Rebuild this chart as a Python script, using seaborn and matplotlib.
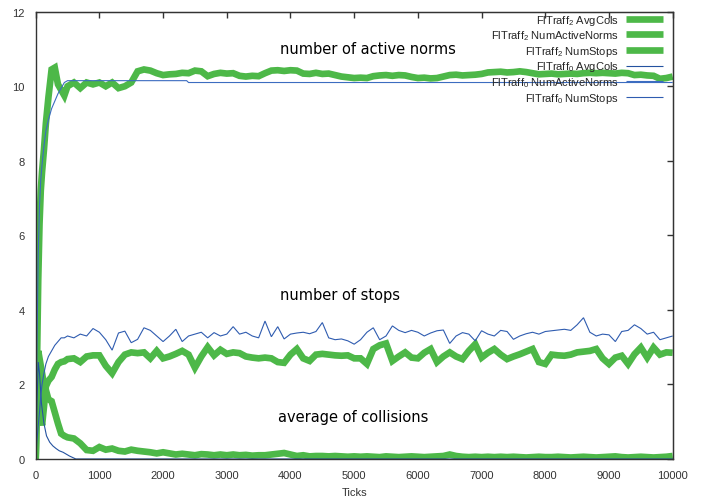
"""Norm emergence in two traffic flows: active norms, stops and collisions over ticks."""

import matplotlib

matplotlib.use("Agg")
import matplotlib.pyplot as plt
import seaborn as sns

# sampling positions (simulation ticks)
ticks_early = [0, 20, 40, 60, 80, 100, 130, 160, 200, 250,
               300, 350, 400, 450, 500, 600, 700, 800, 900, 1000]
ticks = ticks_early + list(range(1100, 10001, 100))

# FlTraff 2 (thick green)
norms_2 = [0, 2.5, 4.8, 6.3, 7.2, 7.7, 8.3, 9.0, 9.7, 10.45,
           10.5, 10.05, 9.9, 9.75, 10.0, 10.1, 9.95, 10.1, 10.05, 10.1,
           10.0, 10.1, 9.95, 10.0, 10.1, 10.4, 10.45, 10.42, 10.35, 10.3,
           10.32, 10.33, 10.36, 10.35, 10.42, 10.4, 10.27, 10.33, 10.36, 10.34,
           10.35, 10.28, 10.26, 10.28, 10.27, 10.35, 10.42, 10.43, 10.41, 10.43,
           10.42, 10.34, 10.33, 10.36, 10.33, 10.34, 10.3, 10.26, 10.24, 10.22,
           10.23, 10.22, 10.27, 10.29, 10.3, 10.28, 10.3, 10.29, 10.25, 10.22,
           10.23, 10.21, 10.22, 10.26, 10.3, 10.31, 10.29, 10.3, 10.31, 10.33,
           10.37, 10.38, 10.39, 10.37, 10.38, 10.4, 10.38, 10.35, 10.32, 10.33,
           10.34, 10.32, 10.33, 10.34, 10.33, 10.35, 10.36, 10.35, 10.36, 10.35,
           10.34, 10.36, 10.35, 10.3, 10.31, 10.29, 10.28, 10.2, 10.22, 10.26]

stops_2 = [0, 1.5, 2.7, 2.0, 1.1, 0.9, 1.4, 1.95, 2.1, 2.2,
           2.4, 2.55, 2.6, 2.62, 2.68, 2.7, 2.6, 2.75, 2.78, 2.78,
           2.5, 2.3, 2.6, 2.8, 2.86, 2.84, 2.86, 2.7, 2.9, 2.7,
           2.75, 2.82, 2.9, 2.8, 2.45, 2.75, 3.0, 2.78, 2.93, 2.82,
           2.86, 2.84, 2.75, 2.72, 2.7, 2.72, 2.7, 2.6, 2.58, 2.8,
           2.95, 2.7, 2.63, 2.8, 2.82, 2.8, 2.78, 2.77, 2.78, 2.7,
           2.7, 2.55, 2.95, 3.05, 3.1, 2.63, 2.75, 2.86, 2.72, 2.7,
           2.85, 2.95, 2.6, 2.75, 2.86, 2.75, 2.68, 2.9, 3.08, 2.72,
           2.85, 2.95, 2.8, 2.68, 2.75, 2.81, 2.88, 2.95, 2.6, 2.55,
           2.8, 2.78, 2.77, 2.8, 2.86, 2.88, 2.9, 2.95, 2.7, 2.55,
           2.72, 2.77, 2.55, 2.81, 2.99, 2.72, 2.99, 2.8, 2.86, 2.85]

cols_2 = [0, 2.0, 2.9, 2.7, 2.5, 2.3, 2.0, 1.85, 1.6, 1.55,
          1.25, 0.95, 0.68, 0.62, 0.58, 0.55, 0.42, 0.24, 0.22, 0.32,
          0.25, 0.28, 0.22, 0.2, 0.25, 0.22, 0.2, 0.18, 0.15, 0.18,
          0.15, 0.12, 0.14, 0.12, 0.1, 0.13, 0.12, 0.1, 0.12, 0.1,
          0.12, 0.1, 0.11, 0.09, 0.1, 0.1, 0.12, 0.14, 0.16, 0.12,
          0.08, 0.1, 0.07, 0.08, 0.08, 0.07, 0.08, 0.07, 0.06, 0.07,
          0.06, 0.07, 0.06, 0.05, 0.07, 0.06, 0.05, 0.06, 0.07, 0.06,
          0.05, 0.06, 0.07, 0.08, 0.12, 0.08, 0.06, 0.05, 0.06, 0.05,
          0.06, 0.05, 0.06, 0.05, 0.06, 0.05, 0.04, 0.05, 0.06, 0.05,
          0.05, 0.06, 0.05, 0.04, 0.05, 0.06, 0.05, 0.04, 0.05, 0.06,
          0.07, 0.05, 0.04, 0.05, 0.06, 0.05, 0.04, 0.05, 0.06, 0.08]

# FlTraff 0 (thin blue)
stops_0 = [0, 0.5, 0.9, 1.25, 1.7, 2.0, 2.3, 2.55, 2.75, 2.9,
           3.05, 3.15, 3.25, 3.25, 3.3, 3.25, 3.35, 3.3, 3.5, 3.4,
           3.2, 2.92, 3.38, 3.43, 3.12, 3.21, 3.52, 3.45, 3.3, 3.15,
           3.3, 3.48, 3.15, 3.3, 3.35, 3.4, 3.25, 3.39, 3.3, 3.35,
           3.55, 3.35, 3.4, 3.3, 3.25, 3.7, 3.28, 3.55, 3.22, 3.35,
           3.38, 3.4, 3.36, 3.42, 3.66, 3.25, 3.2, 3.22, 3.17, 3.08,
           3.2, 3.4, 3.52, 3.2, 3.3, 3.57, 3.45, 3.39, 3.45, 3.4,
           3.3, 3.38, 3.44, 3.46, 3.1, 3.3, 3.39, 3.35, 3.17, 3.44,
           3.35, 3.3, 3.45, 3.42, 3.21, 3.3, 3.36, 3.4, 3.35, 3.42,
           3.44, 3.46, 3.48, 3.45, 3.6, 3.79, 3.4, 3.3, 3.35, 3.33,
           3.15, 3.42, 3.45, 3.6, 3.5, 3.35, 3.4, 3.2, 3.25, 3.3]

norms_0_ticks = [0, 20, 40, 60, 80, 100, 130, 160, 200, 250,
                 300, 350, 400, 450, 500, 2370, 2400, 10000]
norms_0 = [0, 3.0, 5.5, 6.8, 7.5, 7.9, 8.4, 8.8, 9.1, 9.4,
           9.6, 9.8, 9.95, 10.1, 10.15, 10.15, 10.1, 10.1]

cols_0_ticks = [0, 20, 40, 60, 90, 130, 170, 220, 270, 320,
                370, 430, 480, 530, 580, 630, 10000]
cols_0 = [0, 1.5, 2.6, 2.3, 1.5, 0.95, 0.62, 0.45, 0.35, 0.28,
          0.22, 0.18, 0.13, 0.08, 0.04, 0.0, 0.0]

GREEN = "#4db848"

sns.set_style("white")
plt.rcParams["font.family"] = ["Liberation Sans", "DejaVu Sans"]
plt.rcParams["mathtext.fontset"] = "custom"
plt.rcParams["mathtext.rm"] = "Liberation Sans"
plt.rcParams["mathtext.it"] = "Liberation Sans"

fig = plt.figure(figsize=(7.01, 5.02), dpi=100)
ax = fig.add_axes([0.0509, 0.0837, 0.9087, 0.891])

series = [
    (ticks, cols_2, "FlTraff$_2$ AvgCols", GREEN, 4.8),
    (ticks, norms_2, "FlTraff$_2$ NumActiveNorms", GREEN, 4.8),
    (ticks, stops_2, "FlTraff$_2$ NumStops", GREEN, 4.8),
    (cols_0_ticks, cols_0, "FlTraff$_0$ AvgCols", "#2452a0", 0.8),
    (norms_0_ticks, norms_0, "FlTraff$_0$ NumActiveNorms", "#3c6cc0", 0.8),
    (ticks, stops_0, "FlTraff$_0$ NumStops", "#2f5cb0", 0.8),
]
for xs, ys, label, color, lw in series:
    sns.lineplot(x=xs, y=ys, ax=ax, color=color, linewidth=lw,
                 label=label, solid_joinstyle="miter", solid_capstyle="butt")

ax.set_xlim(0, 10000)
ax.set_ylim(0, 12)
ax.set_xticks(range(0, 10001, 1000))
ax.set_yticks(range(0, 13, 2))
for side in ax.spines.values():
    side.set_color("#333333")
    side.set_linewidth(1.0)
ax.tick_params(axis="x", direction="in", length=4, width=1, pad=8,
               labelsize=8, colors="#333333")
ax.tick_params(axis="y", direction="out", length=6, width=1, pad=2,
               labelsize=8, colors="#333333")

# mirrored ticks on top and right, pointing inward
top = ax.secondary_xaxis("top")
top.set_xticks(range(0, 10001, 1000))
top.tick_params(direction="in", length=4, width=1, labeltop=False, colors="#333333")
right = ax.secondary_yaxis("right")
right.set_yticks(range(0, 13, 2))
right.tick_params(direction="in", length=4, width=1, labelright=False, colors="#333333")

ax.set_xlabel("Ticks", fontsize=8, color="#333333", labelpad=5)
ax.set_ylabel("")

note = dict(fontsize=10.5, family="DejaVu Sans", color="black", va="center", ha="left")
ax.text(3830, 11.0, "number of active norms", **note)
ax.text(3830, 4.4, "number of stops", **note)
ax.text(3800, 1.13, "average of collisions", **note)

ax.legend(loc="upper right", bbox_to_anchor=(0.985, 0.998), frameon=False,
          markerfirst=False, fontsize=8, handlelength=3.3, handletextpad=0.7,
          labelspacing=0.15, borderaxespad=0, borderpad=0)

fig.savefig("out.png", dpi=100)
